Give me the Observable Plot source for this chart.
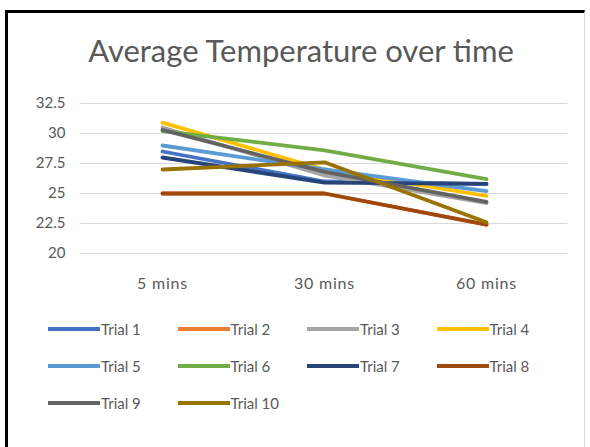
<!DOCTYPE html>
<html><head><meta charset="utf-8">
<script src="https://cdn.jsdelivr.net/npm/d3@7"></script>
<script src="https://cdn.jsdelivr.net/npm/@observablehq/plot@0.6"></script>
<style>
html,body{margin:0;padding:0;background:#fff;}
#frame{position:absolute;left:5px;top:10px;width:580px;height:440px;border-top:3px solid #000;border-left:3px solid #000;border-right:1px solid #d9d9d9;box-sizing:border-box;}
#title{position:absolute;left:0;top:31px;width:602px;text-align:center;font-family:Lato,sans-serif;font-size:31px;font-weight:400;color:#595959;}
#chart{position:absolute;left:0;top:0;}
#legend{position:absolute;left:48px;top:320px;font-family:Lato,sans-serif;font-size:15px;color:#595959;}
.item{position:absolute;display:flex;align-items:center;white-space:nowrap;}
.sw{width:52px;height:4px;margin-right:1px;}
</style></head>
<body>
<div id="frame"></div>
<div id="title">Average Temperature over time</div>
<div id="chart"></div>
<div id="legend"></div>
<script>
const times = ["5 mins", "30 mins", "60 mins"];
const series = ["Trial 1","Trial 2","Trial 3","Trial 4","Trial 5","Trial 6","Trial 7","Trial 8","Trial 9","Trial 10"];
const colors = ["#4472C4","#ED7D31","#A5A5A5","#FFC000","#5B9BD5","#70AD47","#264478","#9E480E","#636363","#997300"];
const trial1 = [28.5, 26.0, 25.8];
const trial2 = [25.0, 25.0, 22.4];
const trial3 = [30.5, 26.5, 24.2];
const trial4 = [30.9, 27.0, 24.8];
const trial5 = [29.0, 27.0, 25.2];
const trial6 = [30.2, 28.6, 26.2];
const trial7 = [28.0, 25.9, 25.8];
const trial8 = [25.0, 25.0, 22.4];
const trial9 = [30.3, 26.8, 24.3];
const trial10 = [27.0, 27.6, 22.6];
const yTicks = [20, 22.5, 25, 27.5, 30, 32.5];
const values = [trial1,trial2,trial3,trial4,trial5,trial6,trial7,trial8,trial9,trial10];

const data = [];
series.forEach((s, i) => values[i].forEach((v, j) => data.push({series: s, time: times[j], value: v})));

const chart = Plot.plot({
  width: 590, height: 300,
  marginLeft: 80, marginRight: 23, marginTop: 103, marginBottom: 47,
  style: {fontFamily: "Lato, sans-serif", fontSize: "15px", color: "#595959", background: "transparent"},
  x: {type: "point", domain: times, padding: 0.5, label: null, tickSize: 0, tickPadding: 24},
  y: {domain: [20, 32.5], ticks: yTicks, tickFormat: d => String(d), label: null, tickSize: 0, tickPadding: 15},
  color: {domain: series, range: colors},
  marks: [
    Plot.gridY(yTicks, {stroke: "#d9d9d9", strokeOpacity: 1, strokeWidth: 1.2}),
    Plot.line(data, {x: "time", y: "value", z: "series", stroke: "series", strokeWidth: 3.8, strokeLinecap: "round", strokeLinejoin: "round"})
  ]
});
chart.querySelectorAll("text").forEach(t => t.setAttribute("fill", "#595959"));
chart.querySelectorAll("[aria-label='x-axis tick label'] text").forEach(t => { t.setAttribute("letter-spacing", "0.8px"); t.setAttribute("font-size", "16px"); });
document.getElementById("chart").appendChild(chart);

const legend = document.getElementById("legend");
const rowY = [0, 37, 74];
series.forEach((s, i) => {
  const el = document.createElement("div");
  el.className = "item";
  el.style.left = (i % 4) * 129.5 + "px";
  el.style.top = rowY[Math.floor(i / 4)] + "px";
  el.innerHTML = `<span class="sw" style="background:${colors[i]}"></span><span>${s}</span>`;
  legend.appendChild(el);
});
</script>
</body></html>
